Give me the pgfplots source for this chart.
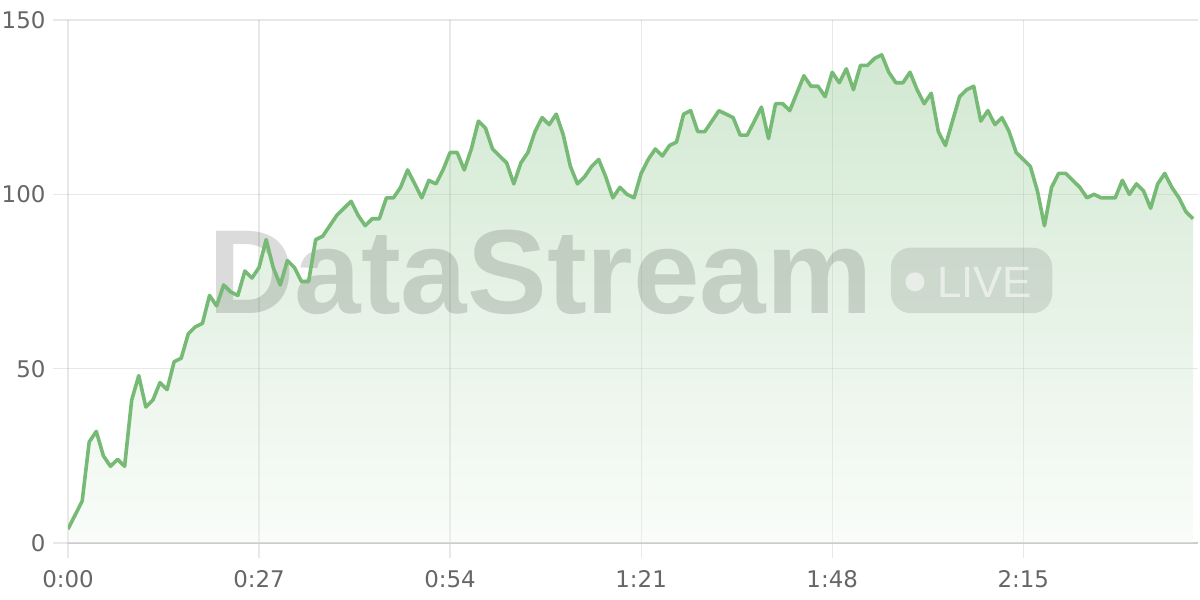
\documentclass[border=0pt]{standalone}
\usepackage{fontspec}
\setmainfont{DejaVu Sans}
\newfontfamily\wmfont{Liberation Sans}
\usepackage{pgfplots}
\usepackage{pgfplotstable}
\pgfplotsset{compat=1.18}

\definecolor{lineGreen}{RGB}{118,186,118}
\definecolor{tickGrey}{RGB}{102,102,102}
\definecolor{axisGrey}{RGB}{204,204,204}

% one value per second
\pgfplotstableread{
t v
0 4
1 8
2 12
3 29
4 32
5 25
6 22
7 24
8 22
9 41
10 48
11 39
12 41
13 46
14 44
15 52
16 53
17 60
18 62
19 63
20 71
21 68
22 74
23 72
24 71
25 78
26 76
27 79
28 87
29 79
30 74
31 81
32 79
33 75
34 75
35 87
36 88
37 91
38 94
39 96
40 98
41 94
42 91
43 93
44 93
45 99
46 99
47 102
48 107
49 103
50 99
51 104
52 103
53 107
54 112
55 112
56 107
57 113
58 121
59 119
60 113
61 111
62 109
63 103
64 109
65 112
66 118
67 122
68 120
69 123
70 117
71 108
72 103
73 105
74 108
75 110
76 105
77 99
78 102
79 100
80 99
81 106
82 110
83 113
84 111
85 114
86 115
87 123
88 124
89 118
90 118
91 121
92 124
93 123
94 122
95 117
96 117
97 121
98 125
99 116
100 126
101 126
102 124
103 129
104 134
105 131
106 131
107 128
108 135
109 132
110 136
111 130
112 137
113 137
114 139
115 140
116 135
117 132
118 132
119 135
120 130
121 126
122 129
123 118
124 114
125 121
126 128
127 130
128 131
129 121
130 124
131 120
132 122
133 118
134 112
135 110
136 108
137 101
138 91
139 102
140 106
141 106
142 104
143 102
144 99
145 100
146 99
147 99
148 99
149 104
150 100
151 103
152 101
153 96
154 103
155 106
156 102
157 99
158 95
159 93
}\streamdata

\begin{document}
\begin{tikzpicture}
\useasboundingbox (0,0) rectangle (1200bp,600bp);
\begin{axis}[
    at={(68bp,57bp)}, anchor=south west,
    scale only axis, width=1130bp, height=523bp,
    xmin=0, xmax=159.7, ymin=0, ymax=150,
    xtick={0,27,54,81,108,135},
    xticklabels={0:00,0:27,0:54,1:21,1:48,2:15},
    ytick={0,50,100,150},
    axis x line*=bottom, axis y line*=left,
    x axis line style={draw=axisGrey, line width=1.5bp, -},
    y axis line style={draw=none},
    grid=major,
    grid style={draw=black, opacity=0.09, line width=1.2bp},
    tick align=outside,
    major tick length=15bp,
    major tick style={draw=black, opacity=0.09, line width=1.2bp},
    tick label style={font=\fontsize{23}{27}\selectfont, text=tickGrey},
    xticklabel style={yshift=-9bp},
    yticklabel style={xshift=-4bp},
    /pgf/number format/assume math mode=true,
]

% area under the line
\addplot[draw=none, fill opacity=0.33, top color=lineGreen, bottom color=lineGreen!12]
    table[x=t, y=v] {\streamdata} \closedcycle;

% watermark
\node[anchor=base west, inner sep=0, text=black, text opacity=0.14,
      font=\wmfont\bfseries\fontsize{120}{120}\selectfont]
    at (axis cs:19.8,65.7) {DataStream};
\fill[black, fill opacity=0.1, rounded corners=20bp]
    (axis cs:116.3,65.9) rectangle (axis cs:139.1,84.7);
\fill[white, fill opacity=0.55] (axis cs:119.7,74.9) circle[radius=9.5bp];
\node[anchor=base west, inner sep=0, text=white, text opacity=0.55,
      font=\wmfont\fontsize{44}{44}\selectfont]
    at (axis cs:122.8,70.5) {LIVE};

\addplot[lineGreen, line width=3.6bp, line join=round, mark=none]
    table[x=t, y=v] {\streamdata};

\end{axis}
\end{tikzpicture}
\end{document}
